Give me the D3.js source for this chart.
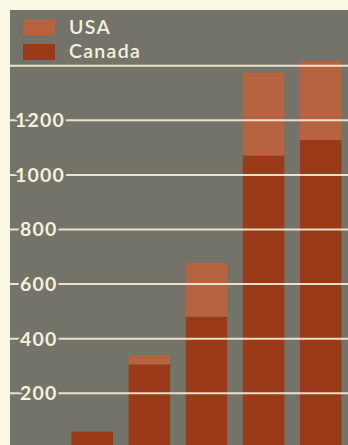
<!DOCTYPE html>
<html><head><meta charset="utf-8">
<script src="https://cdn.jsdelivr.net/npm/d3@7"></script>
<style>html,body{margin:0;padding:0;background:#fbf8e6;}svg{display:block;}</style>
</head><body>
<script>
const categories = ["1", "2", "3", "4", "5"];
const canada = [60, 306, 481, 1071, 1128];
const usa = [0, 34, 197, 304, 288];
const tickValues = [200, 400, 600, 800, 1000, 1200, 1400];
const seriesNames = ["USA", "Canada"];

const W = 348, H = 445;
const panelColor = "#74736a";
const colors = { Canada: "#9a3a19", USA: "#b8633f" };
const lineColor = "#f6f0dc";

const svg = d3.select("body").append("svg").attr("width", W).attr("height", H);
svg.append("rect").attr("width", W).attr("height", H).attr("fill", "#fbf8e6");
svg.append("rect").attr("x", 10).attr("y", 10).attr("width", W - 10).attr("height", H - 10).attr("fill", panelColor);

const y = d3.scaleLinear().domain([0, 1400]).range([447.9, 65.7]);
const x = d3.scaleBand().domain(categories).range([71.5, 341.4]).paddingInner(0.273).paddingOuter(0);

const data = categories.map((c, i) => ({ cat: c, Canada: canada[i], USA: usa[i] }));
const stack = d3.stack().keys(["Canada", "USA"])(data);

svg.append("g").selectAll("g").data(stack).join("g")
  .attr("fill", d => colors[d.key])
  .selectAll("rect").data(d => d).join("rect")
  .attr("x", d => x(d.data.cat))
  .attr("width", x.bandwidth())
  .attr("y", d => y(d[1]))
  .attr("height", d => Math.max(0, y(d[0]) - y(d[1])));

// gridlines on top of bars
const grid = svg.append("g");
grid.selectAll("line").data(tickValues).join("line")
  .attr("x1", 10).attr("x2", W)
  .attr("y1", d => y(d)).attr("y2", d => y(d))
  .attr("stroke", lineColor).attr("stroke-width", 2).attr("opacity", 0.9);

// tick labels knocking out the line
grid.selectAll("text").data(tickValues.filter(v => v < 1400)).join("text")
  .attr("x", d => d >= 1000 ? 15 : 20)
  .attr("y", d => y(d) + 6.8)
  .attr("fill", lineColor)
  .attr("stroke", panelColor).attr("stroke-width", 5).attr("paint-order", "stroke")
  .attr("font-family", "Lato, 'Open Sans', sans-serif")
  .attr("font-weight", "bold")
  .attr("font-size", 19.5)
  .attr("letter-spacing", 1.2)
  .text(d => d);

// legend
const leg = svg.append("g");
seriesNames.forEach((n, i) => {
  leg.append("rect").attr("x", 23).attr("y", 19 + i * 25).attr("width", 32).attr("height", 16).attr("fill", colors[n]);
  leg.append("text").attr("x", 69).attr("y", 33.5 + i * 24)
    .attr("fill", lineColor)
    .attr("font-family", "Lato, 'Open Sans', sans-serif")
    .attr("font-weight", 600)
    .attr("font-size", 19.5)
    .attr("letter-spacing", 1.3)
    .text(n);
});
</script>
</body></html>
